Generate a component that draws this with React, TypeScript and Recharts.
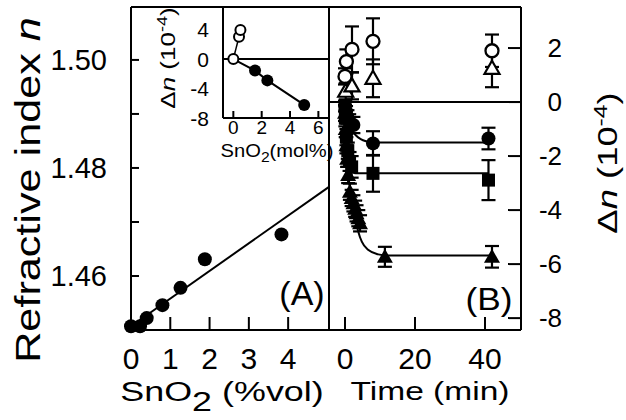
import React from 'react';
import { ComposedChart, Scatter, Line, XAxis, YAxis, ReferenceLine, ErrorBar } from 'recharts';

const FONT = '"Liberation Sans", Arial, Helvetica, sans-serif';
const W = 626;
const H = 420;

// ---------- Panel A : refractive index vs SnO2 (%vol)
const snVol = [0, 0.23, 0.4, 0.8, 1.26, 1.88, 3.83];
const refIndex = [1.4507, 1.4507, 1.4522, 1.4546, 1.4578, 1.4631, 1.4677];
const fitVolA = [0, 5.04];
const fitIndexA = [1.4507, 1.4765];
const ticksVol = [0, 1, 2, 3, 4];
const ticksIndex = [1.46, 1.47, 1.48, 1.49, 1.5];
const labelledIndex = [1.46, 1.48, 1.5];

// ---------- Inset : Δn vs SnO2 (mol%)
const molOpen = [0, 0.4, 0.5];
const dnOpen = [0, 3.0, 3.9];
const molFilled = [1.53, 2.4, 5.0];
const dnFilled = [-1.55, -2.86, -6.15];
const lineOpenMol = [0, 0.4];
const lineOpenDn = [0, 3.0];
const lineFilledMol = [0, 1.53, 2.4, 5.0];
const lineFilledDn = [0, -1.55, -2.86, -6.15];
const ticksMol = [0, 2, 4, 6];
const ticksInsetDn = [4, 0, -4, -8];
const ticksInsetRight = [4, -4];

// ---------- Panel B : Δn vs time (min)
const openCircT = [0, 0.4, 2, 8, 42];
const openCircV = [0.95, 1.5, 1.95, 2.25, 1.9];
const openCircE = [0.3, 0.45, 0.85, 0.85, 0.6];

const openTriT = [0.2, 2, 8, 42];
const openTriV = [0.4, 0.6, 0.88, 1.25];
const openTriE = [0.3, 0.5, 0.7, 0.7];

const fCircT = [0, 0.3, 0.7, 1.2, 2.4, 8, 41];
const fCircV = [-0.15, -0.35, -0.55, -0.7, -0.85, -1.53, -1.35];
const fCircE = [0.2, 0.2, 0.25, 0.25, 0.3, 0.45, 0.4];
const fitCircT = [0, 0.5, 1, 2, 3, 4.5, 6, 7.5, 9, 41];
const fitCircV = [0, -0.45, -0.75, -1.05, -1.22, -1.37, -1.45, -1.49, -1.5, -1.5];

const fSqT = [0.1, 0.4, 0.8, 1.3, 1.9, 8, 41];
const fSqV = [-0.6, -1.3, -1.8, -2.2, -2.4, -2.64, -2.89];
const fSqE = [0.3, 0.3, 0.3, 0.35, 0.4, 0.68, 0.74];
const fitSqT = [0, 0.5, 1, 1.5, 2, 3, 41];
const fitSqV = [0, -1.3, -1.95, -2.35, -2.55, -2.64, -2.64];

const fTriT = [0, 0.2, 0.4, 0.6, 0.9, 1.4, 1.9, 2.4, 2.9, 3.3, 3.8, 4.3, 11.4, 42];
const fTriV = [-0.4, -1.0, -1.6, -2.1, -2.7, -3.32, -3.55, -3.75, -3.95, -4.12, -4.3, -4.49, -5.73, -5.73];
const fTriE = [0.3, 0.3, 0.3, 0.3, 0.3, 0.3, 0.3, 0.3, 0.3, 0.3, 0.3, 0.3, 0.37, 0.4];
const fitTriT = [0, 0.5, 1, 1.5, 2.5, 3.8, 4.8, 6.7, 9.5, 12, 42];
const fitTriV = [0, -1.7, -2.7, -3.3, -4.0, -4.8, -5.17, -5.48, -5.64, -5.68, -5.68];

const ticksTime = [0, 20, 40];
const ticksDn = [2, 0, -2, -4, -6, -8];

const pts = (xs: number[], ys: number[], es?: number[]) =>
  xs.map((x, i) => ({ x, y: ys[i], e: es ? es[i] : 0 }));

const AX = { stroke: '#000', strokeWidth: 2 };

// ---------- marker shapes
const OpenCircle = (p: any) => (
  <circle cx={p.cx} cy={p.cy} r={6.5} fill="#fff" stroke="#000" strokeWidth={2.3} />
);
const FilledCircle = (p: any) => <circle cx={p.cx} cy={p.cy} r={7} fill="#000" />;
const InsetFilled = (p: any) => <circle cx={p.cx} cy={p.cy} r={6} fill="#000" />;
const InsetOpen = (p: any) => (
  <circle cx={p.cx} cy={p.cy} r={5} fill="#fff" stroke="#000" strokeWidth={2} />
);
const FilledSquare = (p: any) => (
  <rect x={p.cx - 6.5} y={p.cy - 6.5} width={13} height={13} fill="#000" />
);
const FilledTri = (p: any) => (
  <path d={`M${p.cx},${p.cy - 8} L${p.cx + 8},${p.cy + 6} L${p.cx - 8},${p.cy + 6} Z`} fill="#000" />
);
const OpenTri = (p: any) => (
  <path
    d={`M${p.cx},${p.cy - 7.5} L${p.cx + 7.5},${p.cy + 5.5} L${p.cx - 7.5},${p.cy + 5.5} Z`}
    fill="#fff"
    stroke="#000"
    strokeWidth={2.2}
  />
);

// ---------- ticks
const bottomTick = (fs: number) => (p: any) => (
  <text x={p.x} y={p.y} dy="0.72em" textAnchor="middle" fontSize={fs} fontFamily={FONT} fill="#000">
    {p.payload.value}
  </text>
);
const leftTickA = (p: any) =>
  labelledIndex.some((v) => Math.abs(v - p.payload.value) < 1e-6) ? (
    <text x={p.x} y={p.y} dy="0.36em" textAnchor="end" fontSize={29} fontFamily={FONT} fill="#000">
      {Number(p.payload.value).toFixed(2)}
    </text>
  ) : (
    <g />
  );
const endTick = (fs: number) => (p: any) => (
  <text x={p.x} y={p.y} dy="0.36em" textAnchor="end" fontSize={fs} fontFamily={FONT} fill="#000">
    {p.payload.value}
  </text>
);

function Lbl({ x, y, rot = 0, sx = 1, fs, children }: any) {
  return (
    <g transform={`translate(${x},${y}) rotate(${rot}) scale(${sx},1)`}>
      <text x={0} y={0} textAnchor="middle" fontSize={fs} fontFamily={FONT} fill="#000">
        {children}
      </text>
    </g>
  );
}

const layer: React.CSSProperties = { position: 'absolute', left: 0, top: 0, width: W, height: H };

// plot boxes: A = [131,329]x[7,330], inset = [223,329]x[7,118], B = [329,521]x[7,330]
function PanelA() {
  return (
    <ComposedChart width={W} height={H} margin={{ top: 6, left: 130, right: 296, bottom: 89 }}>
      <XAxis dataKey="x" type="number" domain={[0, 5.04]} ticks={ticksVol} interval={0} height={1}
        axisLine={AX} tickLine={AX} tickSize={-13} tickMargin={30} tick={bottomTick(30)} />
      <XAxis xAxisId="top" orientation="top" type="number" domain={[0, 1]} height={1}
        axisLine={AX} tick={false} tickLine={false} />
      <YAxis type="number" domain={[1.45, 1.5098]} ticks={ticksIndex} interval={0} width={1}
        axisLine={AX} tickLine={AX} tickSize={-8} tickMargin={32} tick={leftTickA} />
      <YAxis yAxisId="r" orientation="right" type="number" domain={[0, 1]} width={1}
        axisLine={AX} tick={false} tickLine={false} />
      <Line data={pts(fitVolA, fitIndexA)} dataKey="y" type="linear" stroke="#000" strokeWidth={2}
        dot={false} isAnimationActive={false} />
      <Scatter data={pts(snVol, refIndex)} dataKey="y" shape={FilledCircle} isAnimationActive={false} />
    </ComposedChart>
  );
}

function Inset() {
  return (
    <ComposedChart width={W} height={H} margin={{ top: 6, left: 222, right: 296, bottom: 301 }}>
      <XAxis dataKey="x" type="number" domain={[-0.73, 6.75]} ticks={ticksMol} interval={0} height={1}
        axisLine={AX} tickLine={AX} tickSize={-7} tickMargin={9} tick={bottomTick(19)} />
      <XAxis xAxisId="top" orientation="top" type="number" domain={[0, 1]} height={1}
        axisLine={AX} tick={false} tickLine={false} />
      <YAxis type="number" domain={[-7.9, 6.97]} ticks={ticksInsetDn} interval={0} width={1}
        axisLine={AX} tickLine={false} tickSize={0} tickMargin={14} tick={endTick(21)} />
      <YAxis yAxisId="r" orientation="right" type="number" domain={[-7.9, 6.97]} ticks={ticksInsetRight}
        interval={0} width={1} axisLine={AX} tickLine={AX} tickSize={-7} tick={false} />
      <ReferenceLine y={0} stroke="#000" strokeWidth={2} />
      <Line data={pts(lineOpenMol, lineOpenDn)} dataKey="y" type="linear" stroke="#000" strokeWidth={1.5}
        dot={false} isAnimationActive={false} />
      <Line data={pts(lineFilledMol, lineFilledDn)} dataKey="y" type="linear" stroke="#000" strokeWidth={2}
        dot={false} isAnimationActive={false} />
      <Scatter data={pts(molFilled, dnFilled)} dataKey="y" shape={InsetFilled} isAnimationActive={false} />
      <Scatter data={pts(molOpen, dnOpen)} dataKey="y" shape={InsetOpen} isAnimationActive={false} />
    </ComposedChart>
  );
}

function PanelB() {
  const eb = { dataKey: 'e', direction: 'y' as const, width: 7, stroke: '#000', strokeWidth: 2.2 };
  return (
    <ComposedChart width={W} height={H} margin={{ top: 6, left: 328, right: 104, bottom: 89 }}>
      <XAxis dataKey="x" type="number" domain={[-4.57, 50.29]} ticks={ticksTime} interval={0} height={1}
        axisLine={AX} tickLine={AX} tickSize={-13} tickMargin={30} tick={bottomTick(30)} />
      <XAxis xAxisId="top" orientation="top" type="number" domain={[0, 1]} height={1}
        axisLine={AX} tick={false} tickLine={false} />
      <YAxis orientation="right" type="number" domain={[-8.44, 3.52]} ticks={ticksDn} interval={0} width={1}
        axisLine={AX} tickLine={AX} tickSize={-13} tickMargin={54} tick={endTick(26)} />
      <YAxis yAxisId="l" orientation="left" type="number" domain={[0, 1]} width={1}
        axisLine={AX} tick={false} tickLine={false} />
      <ReferenceLine y={0} stroke="#000" strokeWidth={2} />
      <Line data={pts(fitCircT, fitCircV)} dataKey="y" type="monotone" stroke="#000" strokeWidth={2}
        dot={false} isAnimationActive={false} />
      <Line data={pts(fitSqT, fitSqV)} dataKey="y" type="monotone" stroke="#000" strokeWidth={2}
        dot={false} isAnimationActive={false} />
      <Line data={pts(fitTriT, fitTriV)} dataKey="y" type="monotone" stroke="#000" strokeWidth={2}
        dot={false} isAnimationActive={false} />
      <Scatter data={pts(openCircT, openCircV, openCircE)} dataKey="y" shape={OpenCircle} isAnimationActive={false}>
        <ErrorBar {...eb} />
      </Scatter>
      <Scatter data={pts(openTriT, openTriV, openTriE)} dataKey="y" shape={OpenTri} isAnimationActive={false}>
        <ErrorBar {...eb} />
      </Scatter>
      <Scatter data={pts(fCircT, fCircV, fCircE)} dataKey="y" shape={FilledCircle} isAnimationActive={false}>
        <ErrorBar {...eb} />
      </Scatter>
      <Scatter data={pts(fSqT, fSqV, fSqE)} dataKey="y" shape={FilledSquare} isAnimationActive={false}>
        <ErrorBar {...eb} />
      </Scatter>
      <Scatter data={pts(fTriT, fTriV, fTriE)} dataKey="y" shape={FilledTri} isAnimationActive={false}>
        <ErrorBar {...eb} />
      </Scatter>
    </ComposedChart>
  );
}

function Texts() {
  return (
    <svg width={W} height={H} style={{ position: 'absolute', left: 0, top: 0, pointerEvents: 'none' }}>
      <Lbl x={40} y={190} rot={-90} sx={1.2} fs={36}>
        Refractive index <tspan fontStyle="italic">n</tspan>
      </Lbl>
      <Lbl x={222} y={401} sx={1.33} fs={27}>
        SnO<tspan dy={10}>2</tspan><tspan dy={-10}> (%vol)</tspan>
      </Lbl>
      <Lbl x={430} y={400} sx={1.29} fs={26}>
        Time (min)
      </Lbl>
      <Lbl x={617} y={163} rot={-90} sx={1.3} fs={28}>
        Δ<tspan fontStyle="italic">n</tspan> (10<tspan dy={-10} fontSize={19}>-4</tspan><tspan dy={10}>)</tspan>
      </Lbl>
      <Lbl x={175} y={58} rot={-90} sx={1.3} fs={20}>
        Δ<tspan fontStyle="italic">n</tspan> (10<tspan dy={-8} fontSize={14}>-4</tspan><tspan dy={8}>)</tspan>
      </Lbl>
      <Lbl x={277} y={157} sx={1.12} fs={18}>
        SnO<tspan dy={5} fontSize={14}>2</tspan><tspan dy={-5}>(mol%)</tspan>
      </Lbl>
      <Lbl x={302} y={305} sx={1.0} fs={34}>
        (A)
      </Lbl>
      <Lbl x={489} y={310} sx={1.1} fs={32}>
        (B)
      </Lbl>
    </svg>
  );
}

export default function App() {
  return (
    <div style={{ position: 'absolute', left: 0, top: 0, width: W, height: H, background: '#fff' }}>
      <div style={layer}><PanelA /></div>
      <div style={layer}><Inset /></div>
      <div style={layer}><PanelB /></div>
      <Texts />
    </div>
  );
}
